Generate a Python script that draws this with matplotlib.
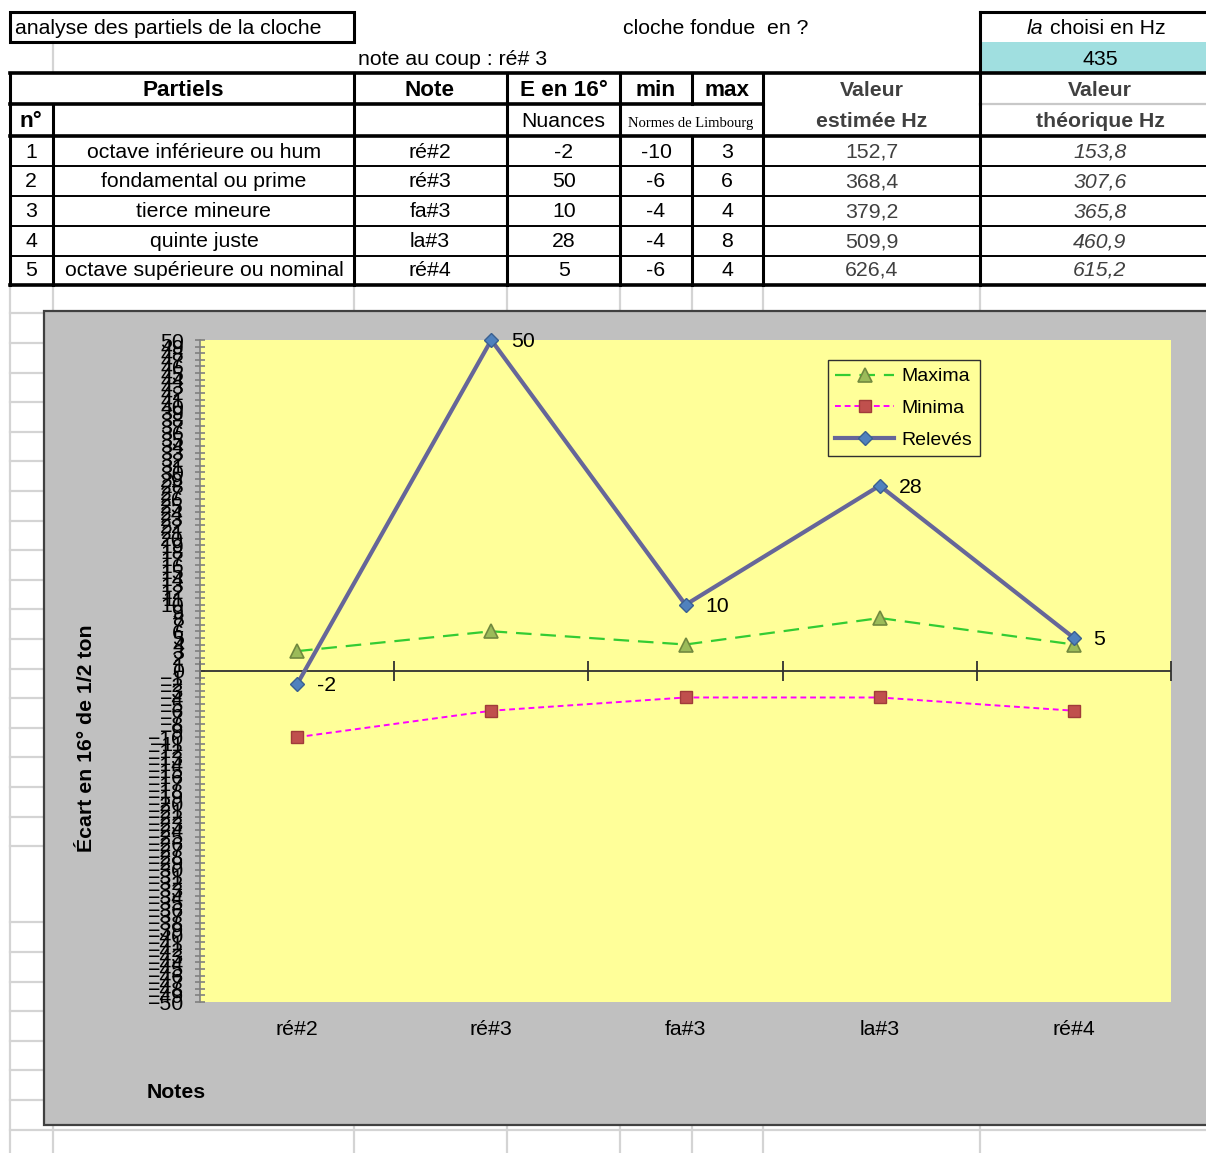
import matplotlib
matplotlib.use("Agg")
import matplotlib.pyplot as plt
from matplotlib.patches import Rectangle

plt.rcParams['font.family'] = ['Liberation Sans', 'DejaVu Sans']

# ---- data ----
numeros = [1, 2, 3, 4, 5]
partiels = ["octave inférieure ou hum", "fondamental ou prime", "tierce mineure",
            "quinte juste", "octave supérieure ou nominal"]
notes = ["ré#2", "ré#3", "fa#3", "la#3", "ré#4"]
releves = [-2, 50, 10, 28, 5]
minima = [-10, -6, -4, -4, -6]
maxima = [3, 6, 4, 8, 4]
freq_estimee = ["152,7", "368,4", "379,2", "509,9", "626,4"]
freq_theorique = ["153,8", "307,6", "365,8", "460,9", "615,2"]
la_choisi = "435"
note_coup = "ré# 3"

W, H = 1206, 1153
fig = plt.figure(figsize=(W / 100, H / 100), dpi=100)
fig.patch.set_facecolor("white")

# sheet layer in pixel coordinates
bg = fig.add_axes([0, 0, 1, 1], zorder=0)
bg.set_xlim(0, W)
bg.set_ylim(H, 0)
bg.axis("off")

GRID = "#D4D4D4"
FS = 15.3
FS_HEAD = 16.2


def hline(y, x0, x1, lw=2.0, color="black", z=3):
    bg.plot([x0, x1], [y, y], color=color, lw=lw, solid_capstyle="projecting", zorder=z)


def vline(x, y0, y1, lw=2.0, color="black", z=3):
    bg.plot([x, x], [y0, y1], color=color, lw=lw, solid_capstyle="projecting", zorder=z)


def txt(x, y, s, ha="center", **kw):
    kw.setdefault("fontsize", FS)
    bg.text(x, y + 1.5, s, ha=ha, va="center", zorder=5, **kw)


# spreadsheet gridlines below the table
cols = [10, 53, 354, 507, 620, 692, 763, 980]
rows = [313.3 + 29.6 * k for k in range(19)] + [922.3 + 29.6 * k for k in range(8)]
for x in cols:
    vline(x, 285, H, lw=1.6, color=GRID, z=1)
for y in rows:
    hline(y, 10, W, lw=1.6, color=GRID, z=1)
vline(53, 42, 73, lw=1.6, color=GRID, z=1)

# top area
bg.add_patch(Rectangle((10, 12), 344, 30, fill=False, ec="black", lw=2.2, zorder=4))
txt(15, 27, "analyse des partiels de la cloche", ha="left")
txt(716, 27, "cloche fondue  en ?")
bg.add_patch(Rectangle((980, 42), 240, 31, fc="#A0DFE0", ec="none", zorder=2))
hline(12, 980, W, lw=2.2)
vline(980, 12, 73, lw=2.2)
txt(1043, 27, "la", ha="right", style="italic")
txt(1050, 27, "choisi en Hz", ha="left")
txt(1100, 58, la_choisi)
txt(358, 58, "note au coup : " + note_coup, ha="left")

# table frame
hline(73, 10, W, lw=2.6)
hline(104, 10, 763, lw=2.6)
hline(104, 980, W, lw=1.6, color="#C8C8C8")
hline(136, 10, W, lw=2.6)
for x in [10, 354, 507, 620, 692, 763, 980]:
    vline(x, 73, 104, lw=2.2)
for x in [10, 53, 354, 507, 620, 763, 980]:
    vline(x, 104, 136, lw=2.2)
for x in [10, 53, 354, 507, 620, 692, 763, 980]:
    vline(x, 136, 285, lw=2.2)
for y in [166, 196, 226, 256]:
    hline(y, 10, W, lw=1.4)
hline(285, 10, W, lw=2.6)

# headers
GREY_TXT = "#404040"
txt(183, 89, "Partiels", fontweight="bold", fontsize=FS_HEAD)
txt(430, 89, "Note", fontweight="bold", fontsize=FS_HEAD)
txt(564, 89, "E en 16°", fontweight="bold", fontsize=FS_HEAD)
txt(656, 89, "min", fontweight="bold", fontsize=FS_HEAD)
txt(727, 89, "max", fontweight="bold", fontsize=FS_HEAD)
txt(872, 89, "Valeur", fontweight="bold", color=GREY_TXT)
txt(1100, 89, "Valeur", fontweight="bold", color=GREY_TXT)
txt(31, 120, "n°", fontweight="bold", fontsize=FS_HEAD)
txt(563, 120, "Nuances")
txt(691, 122, "Normes de Limbourg", fontsize=10.5, family="Liberation Serif")
txt(872, 120, "estimée Hz", fontweight="bold", color=GREY_TXT)
txt(1100, 120, "théorique Hz", fontweight="bold", color=GREY_TXT)

# table body
row_y = [151, 180, 210, 240, 269]
for i, y in enumerate(row_y):
    txt(31, y, str(numeros[i]))
    txt(204, y, partiels[i])
    txt(430, y, notes[i])
    txt(564, y, str(releves[i]))
    txt(656, y, str(minima[i]))
    txt(727, y, str(maxima[i]))
    txt(872, y, freq_estimee[i], color=GREY_TXT)
    txt(1100, y, freq_theorique[i], color=GREY_TXT, style="italic")

# chart area
bg.add_patch(Rectangle((43.5, 311), 1200, 814, fc="#C0C0C0", ec="#404040", lw=1.6, zorder=6))

# plot area
px0, px1, py0, py1 = 200, 1171, 340, 1002
ax = fig.add_axes([px0 / W, 1 - py1 / H, (px1 - px0) / W, (py1 - py0) / H], zorder=2)
ax.set_facecolor("#FFFF99")
for s in ["top", "right", "bottom"]:
    ax.spines[s].set_visible(False)
ax.spines["left"].set_color("#808080")
ax.spines["left"].set_linewidth(1.2)

n = len(notes)
xs = [i + 0.5 for i in range(n)]
ax.set_xlim(0, n)
ax.set_ylim(-50, 50)

# horizontal axis through zero with cross ticks at the category boundaries
ax.axhline(0, color="#303030", lw=1.3, zorder=2)
ax.plot(range(n + 1), [0] * (n + 1), ls="none", marker="|", ms=14, mew=1.3,
        color="#303030", zorder=2, clip_on=False)

ax.set_yticks(range(-50, 51))
ax.tick_params(axis="y", direction="inout", length=7, width=1.2, color="#808080",
               labelsize=FS, pad=8)
ax.set_xticks(xs)
ax.set_xticklabels(notes, fontsize=FS)
ax.tick_params(axis="x", length=0, pad=13)

ax.plot(xs, maxima, color="#33CC33", lw=1.6, dashes=(7, 4), marker="^", ms=10,
        mfc="#9BBB59", mec="#71893F", mew=1.2, label="Maxima", zorder=3)
ax.plot(xs, minima, color="#FF00FF", lw=1.4, dashes=(3, 2), marker="s", ms=8.5,
        mfc="#C0504D", mec="#A03C3A", mew=1.0, label="Minima", zorder=3)
ax.plot(xs, releves, color="#666699", lw=3, marker="D", ms=7,
        mfc="#4F81BD", mec="#3A6090", mew=1.0, label="Relevés", zorder=4, clip_on=False)

for x, v in zip(xs, releves):
    ax.annotate(str(v), (x, v), xytext=(14, -1), textcoords="offset points",
                ha="left", va="center", fontsize=FS, zorder=5)

leg = ax.legend(loc="upper right", bbox_to_anchor=((980 - px0) / (px1 - px0), (py1 - 360) / (py1 - py0)),
                fontsize=14, frameon=True, fancybox=False, edgecolor="#303030",
                facecolor="#FFFF99", framealpha=1, handlelength=3.0, borderpad=0.4,
                labelspacing=0.72, handletextpad=0.4, borderaxespad=0)
leg.get_frame().set_linewidth(1.0)

fig.text(87 / W, 1 - 738 / H, "Écart en 16° de 1/2 ton", rotation=90, ha="center",
         va="center", fontsize=FS, fontweight="bold", zorder=10)
fig.text(176 / W, 1 - 1093 / H, "Notes", ha="center", va="center", fontsize=FS,
         fontweight="bold", zorder=10)

fig.savefig("out.png", dpi=100)
